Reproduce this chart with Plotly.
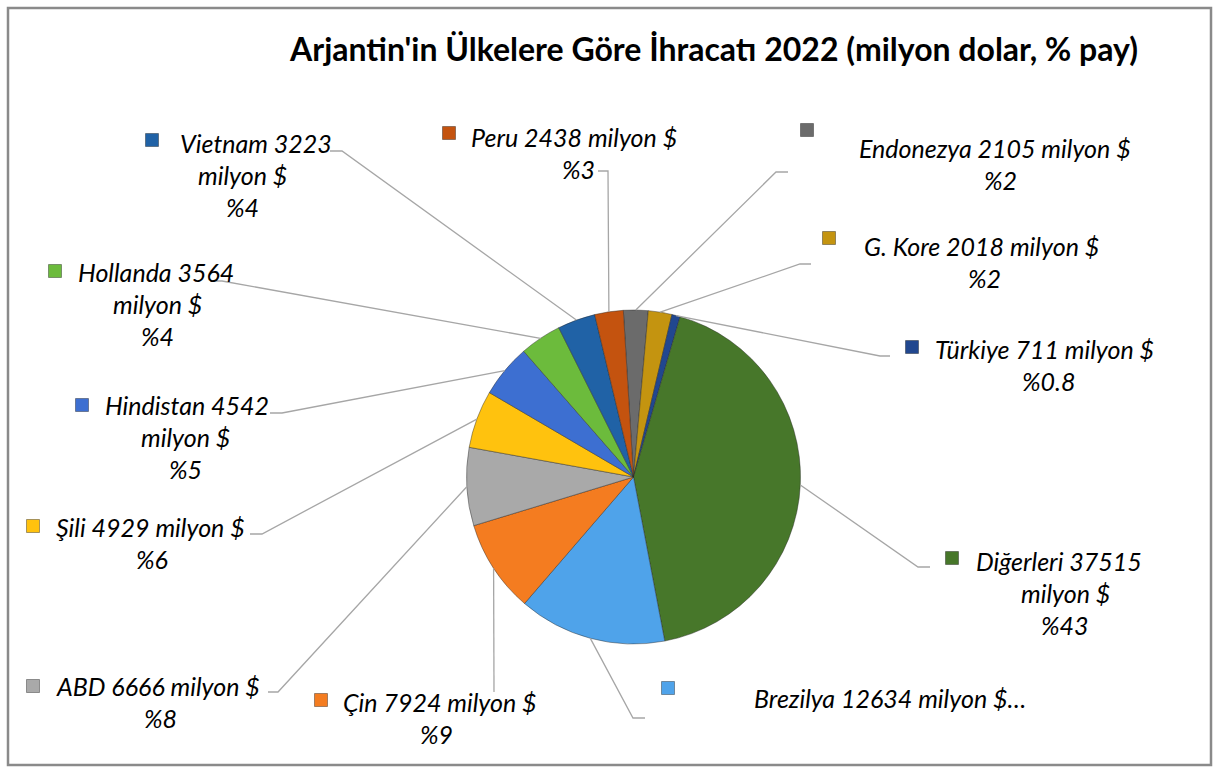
import plotly.graph_objects as go
import math

# veri
countries = ["Endonezya", "G. Kore", "Türkiye", "Diğerleri", "Brezilya", "Çin",
             "ABD", "Şili", "Hindistan", "Hollanda", "Vietnam", "Peru"]
values = [2105, 2018, 711, 37515, 12634, 7924, 6666, 4929, 4542, 3564, 3223, 2438]
pct_text = ["%2", "%2", "%0.8", "%43", "%14", "%9", "%8", "%6", "%5", "%4", "%4", "%3"]
colors = ["#6b6b6b", "#c49410", "#21478f", "#47772a", "#4fa3ea", "#f47c20",
          "#a9a9a9", "#ffc20e", "#3d6fd1", "#6cbb3c", "#2062a6", "#c4530f"]

W, H = 1219, 772
CX, CY, R = 633.5, 477, 167
ROT = -3.5

# etiket yerleşimi (piksel): kare, ilk satır sol x, y, diğer satırlar merkez x, satır kırılımı, kılavuz çizgi
lay = {
    "Endonezya": dict(sq=(807, 130), tx=857, ty=148, cx=1000, split=1, elbow=(776, 172), end=(788, 172)),
    "G. Kore":   dict(sq=(829, 238), tx=862, ty=246, cx=984, split=1, elbow=(800, 264), end=(811, 264)),
    "Türkiye":   dict(sq=(912, 347), tx=933, ty=349, cx=1048, split=1, elbow=(880, 356), end=(890, 356)),
    "Diğerleri": dict(sq=(952, 558), tx=974, ty=561, cx=1065, split=2, elbow=(918, 567), end=(930, 567)),
    "Brezilya":  dict(sq=(668, 688), tx=752, ty=698, cx=0, split=0, elbow=(633, 718), end=(645, 718)),
    "Çin":       dict(sq=(321, 700), tx=341, ty=702, cx=437, split=1, elbow=(494, 692), end=(494, 692)),
    "ABD":       dict(sq=(33, 686), tx=54, ty=686, cx=160, split=1, elbow=(278, 692), end=(268, 692)),
    "Şili":      dict(sq=(33, 526), tx=54, ty=527, cx=152, split=1, elbow=(262, 534), end=(250, 534)),
    "Hindistan": dict(sq=(82, 405), tx=103, ty=405, cx=185, split=2, elbow=(282, 413), end=(270, 413)),
    "Hollanda":  dict(sq=(55, 271), tx=76, ty=272, cx=157, split=2, elbow=(222, 281), end=(210, 281)),
    "Vietnam":   dict(sq=(152, 140), tx=178, ty=143, cx=242, split=2, elbow=(342, 151), end=(330, 151)),
    "Peru":      dict(sq=(449, 133), tx=469, ty=137, cx=578, split=1, elbow=(608, 171), end=(598, 171)),
}

def px(x):
    return x / W

def py(y):
    return 1 - y / H

FONT = "Lato"
FS = 25
LINE_H = 32

fig = go.Figure()
fig.add_trace(go.Pie(
    labels=countries, values=values, sort=False, direction="clockwise",
    rotation=ROT, textinfo="none", hoverinfo="label+value+percent",
    marker=dict(colors=colors, line=dict(color="rgba(40,40,40,0.55)", width=0.8)),
    domain=dict(x=[px(CX - R), px(CX + R)], y=[py(CY + R), py(CY - R)]),
    showlegend=False,
))

shapes = [dict(type="rect", xref="paper", yref="paper", x0=px(8), x1=px(1211), y0=py(765), y1=py(8),
               line=dict(color="#8a8a8a", width=2.5), fillcolor="rgba(0,0,0,0)")]
annotations = [dict(text="<b>Arjantin'in Ülkelere Göre İhracatı 2022 (milyon dolar, % pay)</b>",
                    x=px(713), y=py(48), xref="paper", yref="paper", showarrow=False,
                    xanchor="center", yanchor="middle",
                    font=dict(family=FONT, size=32, color="black"))]

total = sum(values)
cum = 0
for name, val, pct, col in zip(countries, values, pct_text, colors):
    L = lay[name]
    mid = (cum + val / 2) / total * 360 + ROT
    cum += val
    a = math.radians(mid)
    x0, y0 = CX + R * math.sin(a), CY - R * math.cos(a)
    ex, ey = L["elbow"]
    fx, fy = L["end"]
    shapes.append(dict(type="path", xref="paper", yref="paper",
                       path=f"M {px(x0)} {py(y0)} L {px(ex)} {py(ey)} L {px(fx)} {py(fy)}",
                       line=dict(color="#a6a6a6", width=1.3)))
    s = 6.5
    sx, sy = L["sq"]
    shapes.append(dict(type="rect", xref="paper", yref="paper",
                       x0=px(sx - s), x1=px(sx + s), y0=py(sy + s), y1=py(sy - s),
                       fillcolor=col, line=dict(color="rgba(0,0,0,0.35)", width=1)))

    # satırlar
    full = f"{name} {val} milyon $"
    if L["split"] == 0:
        lines = [full + "…"]
    elif L["split"] == 1:
        lines = [full, pct]
    else:
        lines = [f"{name} {val}", "milyon $", pct]
    for i, t in enumerate(lines):
        ann = dict(text=f"<i>{t}</i>", y=py(L["ty"]), yshift=-LINE_H * i, yanchor="middle",
                   xref="paper", yref="paper", showarrow=False,
                   font=dict(family=FONT, size=FS, color="black"))
        if i == 0:
            ann.update(x=px(L["tx"]), xanchor="left")
        else:
            ann.update(x=px(L["cx"]), xanchor="center")
        annotations.append(ann)

fig.update_layout(width=W, height=H, margin=dict(l=0, r=0, t=0, b=0),
                  paper_bgcolor="white", plot_bgcolor="white",
                  shapes=shapes, annotations=annotations)

fig.write_html("out.html", config={"displayModeBar": False},
               post_script="document.body.style.margin='0';document.body.style.overflow='hidden';")
